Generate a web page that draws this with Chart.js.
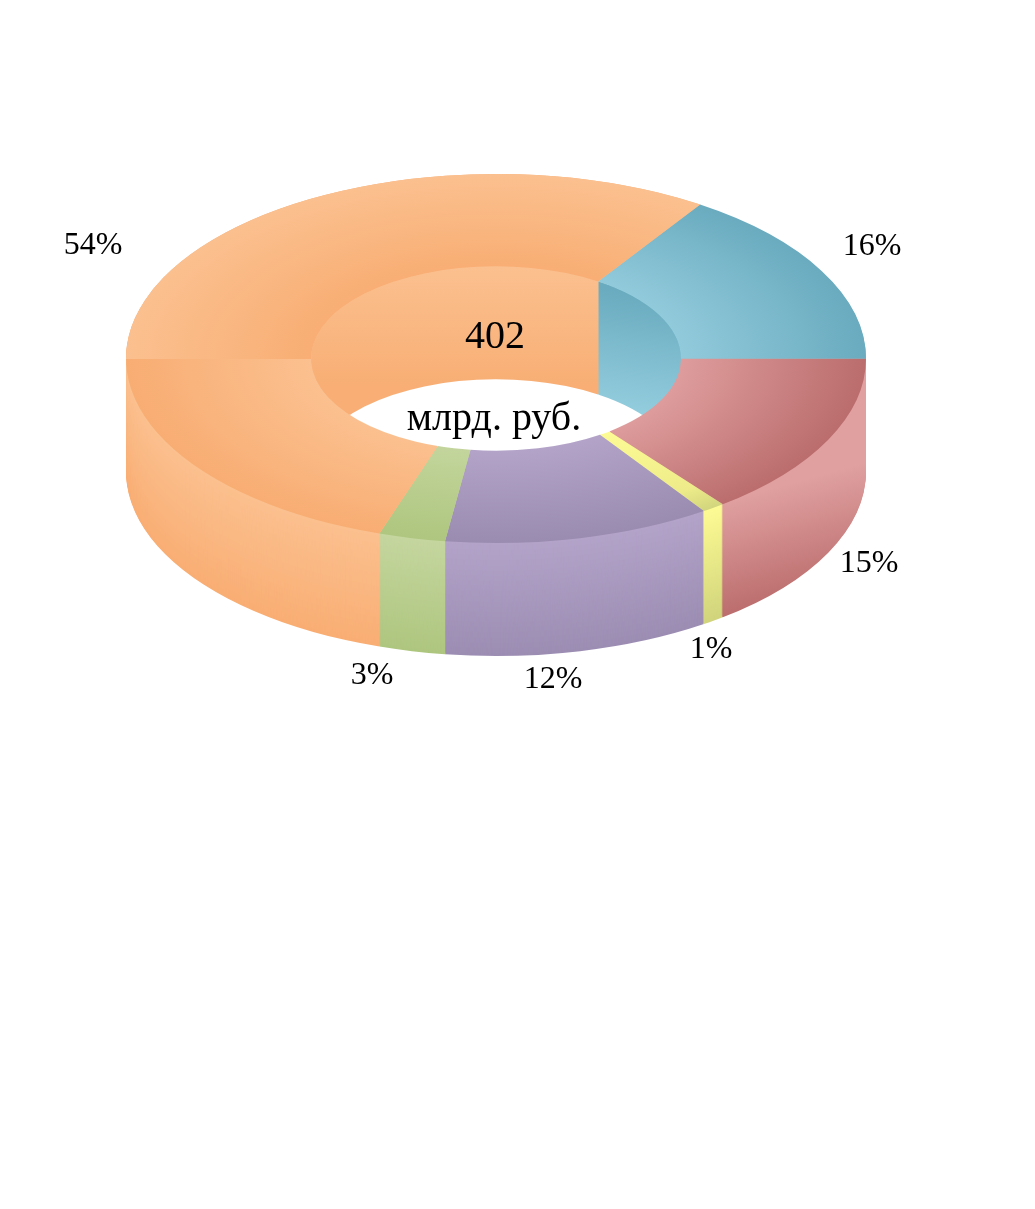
<!DOCTYPE html>
<html>
<head>
<meta charset="utf-8">
<style>
  html, body { margin: 0; padding: 0; background: #fff; }
  canvas { display: block; }
</style>
<script src="https://cdn.jsdelivr.net/npm/chart.js@4"></script>
</head>
<body>
<canvas id="ring-chart" width="1035" height="1209"></canvas>
<script>
// shares in percent, clockwise from the right-hand edge of the ring
const sliceNames = ["red", "yellow", "purple", "green", "orange", "blue"];
const shareValues = [14.5, 1.0, 11.7, 2.9, 54.2, 15.7];
const totalValue = "402";
const totalUnit = "млрд. руб.";

// label centres on the page, same order as the slices
const labelSpots = [[869, 564], [711, 650], [553, 680], [372, 676], [93, 246], [872, 247]];

const flatten = 184.5 / 370;
const ringCenterY = 358.5;
const wallDepth = 113;

// top face: inner edge colour, outer edge colour, optional middle stop
const topFills = {
    red: ["#de9c9c", "#bb6d6d"],
    yellow: ["#fdfb94", "#d2d57d", "#eeec8a"],
    purple: ["#b3a3c9", "#9a8bb0"],
    green: ["#c3d59c", "#aec67f"],
    orange: ["#fbc08f", "#f8ad73"],
    blue: ["#91cadb", "#6aabbf"]
};
const orangeUpperFill = ["#f8ae74", "#fbc08f"];

// outer wall: colour at the top edge, colour at the bottom edge
const outerWallFills = {
    yellow: ["#fdfb94", "#d1d47c"],
    purple: ["#b3a3c9", "#9c8db3"],
    green: ["#c5d69f", "#aec67f"],
    orange: ["#fbc08f", "#f9ae74"],
    blue: ["#8fc8d9", "#6aabbf"]
};
// red wall runs diagonally on the page: x0, y0, x1, y1, from, to
const redWallFill = [730, 500, 830, 590, "#e0a0a0", "#bb6c6c"];

// inner wall: x0, y0, x1, y1, from, to in page coordinates
const innerWallFills = {
    red: [0, 360, 0, 480, "#de9c9c", "#bb6d6d"],
    yellow: [0, 400, 0, 500, "#fdfb94", "#d1d47c"],
    purple: [0, 400, 0, 500, "#b3a3c9", "#9c8db3"],
    green: [0, 400, 0, 500, "#c5d69f", "#aec67f"],
    orange: [0, 267, 0, 388, "#fbc08f", "#f8ae74"],
    blue: [682, 300, 612, 410, "#6aabbf", "#93cdde"]
};

function mixColor(a, b, t) {
    const channel = (hex, at) => parseInt(hex.slice(at, at + 2), 16);
    const out = [1, 3, 5].map((at) => Math.round(channel(a, at) + (channel(b, at) - channel(a, at)) * t));
    return `rgb(${out.join(",")})`;
}

// gradient given in page coordinates, handed back in the squashed arc space
function pageGradient(ctx, arc, spec, shift) {
    const toArcY = (y) => (y - ringCenterY - shift) / flatten + arc.y;
    const grad = ctx.createLinearGradient(spec[0], toArcY(spec[1]), spec[2], toArcY(spec[3]));
    grad.addColorStop(0, spec[4]);
    grad.addColorStop(1, spec[5]);
    return grad;
}

function radialFill(ctx, arc, colors) {
    const grad = ctx.createRadialGradient(arc.x, arc.y, arc.innerRadius, arc.x, arc.y, arc.outerRadius);
    grad.addColorStop(0, colors[0]);
    if (colors[2]) grad.addColorStop(0.75, colors[2]);
    grad.addColorStop(1, colors[1]);
    return grad;
}

function drawArc(ctx, arc, fill, shift) {
    const saved = arc.options;
    const layered = Object.create(saved);
    layered.backgroundColor = fill;
    arc.options = layered;
    ctx.save();
    ctx.translate(0, ringCenterY + shift);
    ctx.scale(1, flatten);
    ctx.translate(0, -arc.y);
    arc.draw(ctx);
    ctx.restore();
    arc.options = saved;
}

const ringPlugin = {
    id: "ring3d",
    beforeDatasetDraw(chart) {
        const ctx = chart.ctx;
        const arcs = chart.getDatasetMeta(0).data;
        const first = arcs[0];
        const orangeArc = arcs[sliceNames.indexOf("orange")];

        for (let d = wallDepth; d > 0; d--) {
            arcs.forEach((arc, idx) => {
                const name = sliceNames[idx];
                const fill = name === "red"
                    ? pageGradient(ctx, arc, redWallFill, d)
                    : mixColor(outerWallFills[name][0], outerWallFills[name][1], d / wallDepth);
                drawArc(ctx, arc, fill, d);
            });
        }

        ctx.save();
        ctx.beginPath();
        ctx.ellipse(first.x, ringCenterY, first.innerRadius, first.innerRadius * flatten, 0, 0, Math.PI * 2);
        ctx.clip();
        ctx.fillStyle = "#fff";
        ctx.fillRect(0, 0, chart.width, chart.height);
        for (let d = wallDepth; d > 0; d--) {
            arcs.forEach((arc, idx) => {
                drawArc(ctx, arc, pageGradient(ctx, arc, innerWallFills[sliceNames[idx]], d), d);
            });
        }
        ctx.restore();

        arcs.forEach((arc, idx) => {
            drawArc(ctx, arc, radialFill(ctx, arc, topFills[sliceNames[idx]]), 0);
        });

        // the back half of the big slice shades the other way round
        ctx.save();
        ctx.beginPath();
        ctx.rect(0, 0, chart.width, Math.ceil(ringCenterY));
        ctx.clip();
        drawArc(ctx, orangeArc, radialFill(ctx, orangeArc, orangeUpperFill), 0);
        ctx.restore();
        return false;
    },
    afterDraw(chart) {
        const ctx = chart.ctx;
        ctx.save();
        ctx.fillStyle = "#000";
        ctx.textAlign = "center";
        ctx.textBaseline = "middle";
        ctx.font = "32px 'Liberation Serif'";
        shareValues.forEach((value, idx) => {
            ctx.fillText(Math.round(value) + "%", labelSpots[idx][0], labelSpots[idx][1]);
        });
        ctx.font = "40px 'Liberation Serif'";
        ctx.fillText(totalValue, 495, 337);
        ctx.fillText(totalUnit, 494, 419);
        ctx.restore();
    }
};

new Chart(document.getElementById("ring-chart"), {
    type: "doughnut",
    data: {
        labels: sliceNames,
        datasets: [{ data: shareValues, borderWidth: 0 }]
    },
    options: {
        responsive: false,
        animation: false,
        rotation: 90,
        cutout: "50%",
        layout: { padding: { left: 126, right: 169, top: 0, bottom: 469 } },
        plugins: { legend: { display: false }, tooltip: { enabled: false } }
    },
    plugins: [ringPlugin]
});
</script>
</body>
</html>
